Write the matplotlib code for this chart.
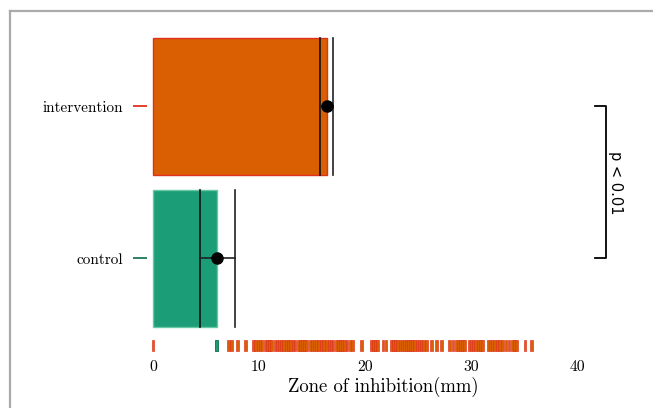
import matplotlib
matplotlib.use("Agg")
from matplotlib import pyplot as plt
from matplotlib.lines import Line2D

plt.rcParams['font.family'] = ['cmr10', 'DejaVu Serif']
plt.rcParams['axes.formatter.use_mathtext'] = True

# groups, bottom to top
groups = ["control", "intervention"]
means = [6.07, 16.45]
ci_low = [4.43, 15.75]
ci_high = [7.74, 17.0]
fill_colors = ["#1b9e77", "#d95f02"]
edge_colors = ["#66c9a4", "#e0301e"]
tick_colors = ["#1b7a55", "#e0301e"]

# individual measurements shown as a rug under the bars
control_rug = [6.0]
intervention_rug = [0.0, 7.1, 7.4, 8.0, 8.7, 9.5, 9.7, 9.9, 10.1, 10.3, 10.6, 10.8,
                    11.0, 11.2, 11.5, 11.7, 11.9, 12.1, 12.3, 12.6, 12.8, 13.0, 13.2,
                    13.4, 13.7, 13.9, 14.1, 14.3, 14.5, 14.8, 15.0, 15.2, 15.4, 15.6,
                    15.9, 16.1, 16.4, 16.6, 16.8, 17.0, 17.3, 17.5, 17.7, 17.9, 18.1,
                    18.3, 18.6, 18.8, 19.7, 20.6, 20.8, 21.0, 21.2, 21.7, 22.0, 22.5,
                    22.7, 22.9, 23.1, 23.3, 23.5, 23.7, 23.9, 24.1, 24.3, 24.5, 24.7,
                    24.9, 25.1, 25.3, 25.5, 25.8, 26.3, 26.75, 27.2, 28.0, 28.3, 28.6,
                    28.8, 29.0, 29.2, 29.4, 29.8, 30.0, 30.2, 30.4, 30.7, 30.9, 31.1,
                    31.6, 31.8, 32.0, 32.2, 32.5, 32.7, 33.0, 33.3, 33.6, 33.9, 34.1,
                    34.3, 35.1, 35.7]
xticks = [0, 10, 20, 30, 40]
p_text = "p < 0.01"

fig = plt.figure(figsize=(6.53, 4.08), dpi=100)
ax = fig.add_axes([0.2245, 0.1243, 0.7240, 0.801])

bar_h = 0.9
ypos = [0, 1]
ax.barh(ypos, means, height=bar_h, color=fill_colors, edgecolor=edge_colors, linewidth=1.0, zorder=2)

for y, m, lo, hi in zip(ypos, means, ci_low, ci_high):
    ax.plot([lo, lo], [y - bar_h / 2, y + bar_h / 2], color="#111111", lw=1.2, zorder=3)
    ax.plot([hi, hi], [y - bar_h / 2, y + bar_h / 2], color="#222222", lw=1.2, zorder=3)
    ax.plot([lo, hi], [y, y], color="#222222", lw=1.2, zorder=3)
    ax.plot([m], [y], 'o', color="black", ms=8, zorder=4)

# rug
rug_y = -0.606
rug_h = 0.07
ax.bar(control_rug, rug_h, bottom=rug_y, width=0.22, color="#1b9e77", edgecolor="#0d6b45", linewidth=0.6, zorder=2)
ax.bar(intervention_rug, rug_h, bottom=rug_y, width=0.25, color="#d95f02", edgecolor="#e0301e",
       linewidth=0.45, zorder=2)

# significance bracket
bx = 42.74
ax.plot([41.7, bx, bx, 41.7], [1, 1, 0, 0], color="black", lw=1.3, clip_on=False)
ax.text(43.6, 0.5, p_text, rotation=-90, ha="center", va="center", fontsize=10.5,
        family=["DejaVu Sans"], clip_on=False)

ax.set_xlim(-0.6, 44.0)
ax.set_ylim(-0.65, 1.5)
ax.set_xticks(xticks)
ax.set_xticklabels([str(t) for t in xticks], fontsize=11.3)
ax.tick_params(axis="x", length=0, pad=2)
ax.set_yticks(ypos)
ax.set_yticklabels(groups, fontsize=11)
ax.tick_params(axis="y", length=10, width=1.3, pad=7)
for tk, c in zip(ax.yaxis.get_major_ticks(), tick_colors):
    tk.tick1line.set_color(c)
    tk.tick1line.set_markeredgecolor(c)
ax.set_xlabel("Zone of inhibition(mm)", fontsize=13.5, labelpad=2)
for s in ax.spines.values():
    s.set_visible(False)

# grey frame at top and left
fig.add_artist(Line2D([9.5 / 653, 9.5 / 653], [0, 397 / 408], color="#aaaaaa", lw=1.6))
fig.add_artist(Line2D([9.5 / 653, 1], [397 / 408, 397 / 408], color="#aaaaaa", lw=1.6))

fig.savefig("out.png", dpi=100)
